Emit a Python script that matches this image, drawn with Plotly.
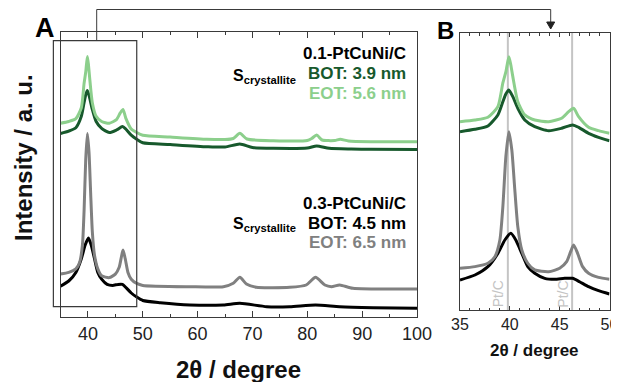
import plotly.graph_objects as go

# ---------------- data ----------------
# 2theta positions and intensities (arbitrary units) for each pattern
eot01_x = [35, 36.5, 37.8, 38.8, 39.3, 39.6, 39.9, 40.1, 40.3, 40.8, 41.5, 42.5, 43.9, 45.2, 45.9, 46.4, 46.9, 47.9, 48.9, 50,
           55, 61.7, 65, 66.5, 67.7, 69.0, 73.8, 80, 80.8, 81.7, 82.7, 85, 86, 87.5, 91.6, 100]
eot01_y = [193.8, 195.5, 198.3, 209.2, 233.6, 245, 260.6, 252, 240.1, 214.3, 200.7, 195.5, 193.8, 197.3, 204.1, 207.6, 198.9, 188.0, 184.5, 181.8,
           180, 177.7, 177.5, 178.5, 183.7, 178, 176.3, 176.5, 178.5, 182, 177, 176.5, 177.7, 176, 175.3, 175.3]

bot01_x = [35, 36.5, 37.8, 38.8, 39.3, 39.6, 39.9, 40.3, 40.8, 41.5, 42.5, 43.9, 45.2, 46.3, 46.9, 47.9, 48.9, 50,
           55, 61.7, 65, 67.7, 70, 73.8, 80, 81.7, 84, 88, 91.6, 100]
bot01_y = [183.5, 185.9, 189.3, 200.7, 214.3, 222.3, 226.4, 219.5, 207.6, 195.5, 188.6, 184.5, 187.0, 190.4, 188.0, 181.8, 177.7, 174.2,
           172.5, 170.3, 170, 173, 169.5, 168.7, 169, 171, 168.7, 168, 167.7, 167.5]

eot03_x = [35, 36.5, 37.8, 38.5, 39.0, 39.3, 39.6, 39.9, 40.2, 40.5, 40.8, 41.2, 41.8, 42.5, 43.9, 45.0, 45.7, 46.1, 46.4, 46.8, 47.3, 47.9, 48.9, 50,
           58.6, 64.7, 66.5, 67.7, 68.9, 70.7, 76.8, 79.8, 81.5, 83.2, 84.4, 85.9, 88.3, 100]
eot03_y = [42.9, 44.6, 48.1, 54.8, 72.0, 106.3, 157.7, 183.5, 164.6, 123.5, 85.7, 61.7, 48.1, 41.2, 39.4, 42.9, 49.7, 60.0, 66.9, 58.3, 44.6, 37.8, 33.6, 31.6,
           30.3, 30.3, 33.7, 39.7, 33, 29.7, 29.7, 32, 39.7, 32, 30.3, 32, 28.7, 28]

bot03_x = [35, 36.5, 37.8, 38.8, 39.5, 40.1, 40.6, 41.2, 41.8, 42.5, 43.5, 44.5, 45.5, 46.3, 47.0, 47.9, 48.9, 50,
           53.2, 58.6, 64.7, 67.7, 72.6, 76.8, 81.5, 85.9, 92, 100]
bot03_y = [30.9, 36.0, 44.6, 58.3, 72.0, 78.9, 72.0, 58.3, 44.6, 37.8, 32.6, 31.6, 32.6, 32.6, 29.1, 24.0, 19.9, 16.5,
           14.3, 12, 12, 13.7, 10.3, 10.3, 12, 10.3, 9.3, 8.7]

ptc_ref = [39.8, 46.25]          # Pt/C reference reflections
a_ticks = [40, 50, 60, 70, 80, 90, 100]
b_ticks = [35, 40, 45, 50]

labels_01 = ["0.1-PtCuNi/C", "BOT: 3.9 nm", "EOT: 5.6 nm"]
labels_03 = ["0.3-PtCuNi/C", "BOT: 4.5 nm", "EOT: 6.5 nm"]

# ---------------- styling ----------------
OFF = 8                      # page body margin
PW, PH = 619 - OFF, 382 - OFF
FONT = "Liberation Sans, Arial, sans-serif"
C_LG = "#8ccf8c"
C_DG = "#17592c"
C_GR = "#808080"
C_BK = "#000000"
C_AX = "#3a3a3a"


def px(x):
    return (x - OFF) / PW


def py(y):
    return 1 - (y - OFF) / PH


A_dom_x = [px(60.5), px(417)]
A_dom_y = [py(317), py(32)]
B_dom_x = [px(460), px(609.5)]
B_dom_y = [py(310), py(33)]
A_rx = [35, 100]
B_rx = [35, 50]
Y_R = [0, 285]


def a2paper_x(x):
    return A_dom_x[0] + (x - A_rx[0]) / (A_rx[1] - A_rx[0]) * (A_dom_x[1] - A_dom_x[0])


def a2paper_y(y):
    return A_dom_y[0] + (y - Y_R[0]) / (Y_R[1] - Y_R[0]) * (A_dom_y[1] - A_dom_y[0])


def b2paper_x(x):
    return B_dom_x[0] + (x - B_rx[0]) / (B_rx[1] - B_rx[0]) * (B_dom_x[1] - B_dom_x[0])


fig = go.Figure()

series = [(bot03_x, bot03_y, C_BK), (eot03_x, eot03_y, C_GR),
          (bot01_x, bot01_y, C_DG), (eot01_x, eot01_y, C_LG)]

for xs, ys, col in series:
    fig.add_trace(go.Scatter(x=xs, y=ys, mode="lines", xaxis="x", yaxis="y",
                             line=dict(color=col, width=3, shape="spline", smoothing=0.6),
                             showlegend=False, hoverinfo="skip"))

# Pt/C reference lines in panel B (drawn under the curves)
for xr in ptc_ref:
    fig.add_trace(go.Scatter(x=[xr, xr], y=Y_R, mode="lines", xaxis="x2", yaxis="y2",
                             line=dict(color="#c4c4c4", width=2), showlegend=False, hoverinfo="skip"))

for xs, ys, col in series:
    bx = [x for x in xs if x <= 50.5]
    by = [y for x, y in zip(xs, ys) if x <= 50.5]
    fig.add_trace(go.Scatter(x=bx, y=by, mode="lines", xaxis="x2", yaxis="y2",
                             line=dict(color=col, width=3, shape="spline", smoothing=0.6),
                             showlegend=False, hoverinfo="skip"))

axis_common = dict(showline=True, linecolor=C_AX, linewidth=1, mirror="ticks",
                   ticks="inside", tickcolor=C_AX, showgrid=False, zeroline=False,
                   automargin=False)
yaxis_common = dict(showticklabels=False, showline=True, linecolor=C_AX, linewidth=1,
                    mirror=True, ticks="", showgrid=False, zeroline=False, automargin=False)

fig.update_layout(
    template="none",
    width=PW, height=PH, margin=dict(l=0, r=0, t=0, b=0, autoexpand=False),
    paper_bgcolor="white", plot_bgcolor="white",
    font=dict(family=FONT, color="black"),
    xaxis=dict(domain=A_dom_x, range=A_rx, anchor="y", tickvals=a_ticks,
               ticklen=6, tickwidth=1, tickfont=dict(size=18, color="#222"),
               minor=dict(dtick=5, tick0=35, ticklen=3, tickcolor=C_AX, ticks="inside"),
               **axis_common),
    yaxis=dict(domain=A_dom_y, range=Y_R, anchor="x", **yaxis_common),
    xaxis2=dict(domain=B_dom_x, range=B_rx, anchor="y2", tickvals=b_ticks,
                ticklen=4, tickwidth=1, tickfont=dict(size=16, color="#222"),
                minor=dict(dtick=1, tick0=35, ticklen=2.5, tickcolor=C_AX, ticks="inside"),
                **axis_common),
    yaxis2=dict(domain=B_dom_y, range=Y_R, anchor="x2", **yaxis_common),
)

ann = []
# axis titles
ann.append(dict(text="<b>Intensity / a. u.</b>", x=px(23), y=py(158), textangle=-90,
                font=dict(size=24, color="#111")))
ann.append(dict(text="<b>2θ / degree</b>", x=px(238), y=py(369), font=dict(size=24, color="#111")))
ann.append(dict(text="<b>2θ / degree</b>", x=px(534), y=py(350), font=dict(size=17, color="#111")))
# panel letters
ann.append(dict(text="<b>A</b>", x=px(45), y=py(28), font=dict(size=27, color="black")))
ann.append(dict(text="<b>B</b>", x=px(445.5), y=py(30), font=dict(size=24, color="black")))
for a in ann:
    a.update(xanchor="center")

# sample labels
for labels, y0, c_bot, c_eot in [(labels_01, 53, C_DG, C_LG), (labels_03, 203, C_BK, C_GR)]:
    cols = ["black", c_bot, c_eot]
    for i, (t, c) in enumerate(zip(labels, cols)):
        ann.append(dict(text=f"<b>{t}</b>", x=px(408), y=py(y0 + 20 * i), xanchor="right",
                        font=dict(size=17, color=c)))
for ys in (77, 224):
    ann.append(dict(text="<b>S<sub>crystallite</sub></b>", x=px(298), y=py(ys), xanchor="right",
                    font=dict(size=16, color="black")))

# Pt/C labels
for xr in ptc_ref:
    ann.append(dict(text="Pt/C", x=b2paper_x(xr) - 9.5 / PW, y=py(294), textangle=-90,
                    xanchor="center", font=dict(size=14, color="#c4c4c4")))

for a in ann:
    a.update(xref="paper", yref="paper", showarrow=False, yanchor="middle")
fig.update_layout(annotations=ann)

# inset marker rectangle and connector arrow
rx0, rx1 = a2paper_x(33.7), a2paper_x(48.9)
ry0, ry1 = a2paper_y(10.3), a2paper_y(276.3)
conn_x0 = a2paper_x(41.6)
conn_x1 = b2paper_x(44.1)
top_y = py(9.5)
tip_y = py(29)
hw = 4 / PW
shapes = [
    dict(type="rect", xref="paper", yref="paper", x0=rx0, x1=rx1, y0=ry0, y1=ry1,
         line=dict(color=C_AX, width=1.2)),
    dict(type="path", xref="paper", yref="paper",
         path=f"M {conn_x0} {ry1} L {conn_x0} {top_y} L {conn_x1} {top_y} L {conn_x1} {py(23)}",
         line=dict(color=C_AX, width=1)),
    dict(type="path", xref="paper", yref="paper",
         path=f"M {conn_x1 - hw} {py(22)} L {conn_x1 + hw} {py(22)} L {conn_x1} {tip_y} Z",
         fillcolor="#222", line=dict(color="#222", width=1)),
]
fig.update_layout(shapes=shapes)

fig.write_html("out.html")
